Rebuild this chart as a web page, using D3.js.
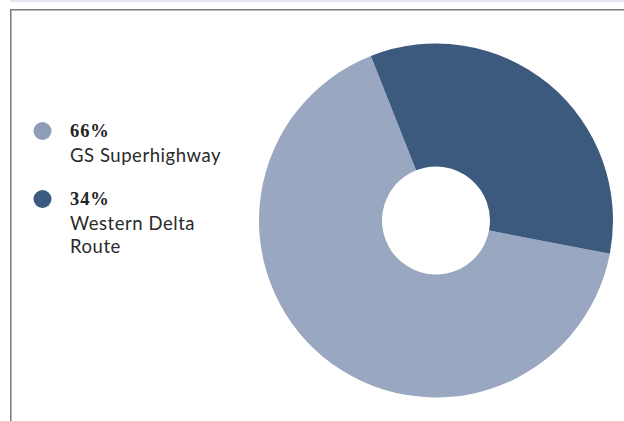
<!DOCTYPE html>
<html>
<head>
<meta charset="utf-8">
<script src="https://cdn.jsdelivr.net/npm/d3@7"></script>
<style>
  html, body { margin: 0; padding: 0; background: #fff; }
  svg { display: block; }
</style>
</head>
<body>
<svg id="chart" width="624" height="421"></svg>
<script>
// Share of routes
const categories = ["GS Superhighway", "Western Delta Route"];
const shares = [66, 34];
const shareLabels = ["66%", "34%"];
const legendLines = [["GS Superhighway"], ["Western Delta", "Route"]];
const colors = ["#99a7c0", "#3c5a7e"];
const legendColors = ["#8f9db8", "#3b5a80"];

const svg = d3.select("#chart");
const W = 624, H = 421;

// thin band across the very top
svg.append("rect").attr("x", 10).attr("y", 0).attr("width", W - 10).attr("height", 2)
  .attr("fill", "#e3e7f0");

// frame lines (top and left)
svg.append("rect").attr("x", 10).attr("y", 9).attr("width", W - 10).attr("height", 1).attr("fill", "#7a7a7a");
svg.append("rect").attr("x", 10).attr("y", 10).attr("width", W - 10).attr("height", 1).attr("fill", "#b8b8b8");
svg.append("rect").attr("x", 10).attr("y", 9).attr("width", 1).attr("height", H - 9).attr("fill", "#7a7a7a");
svg.append("rect").attr("x", 11).attr("y", 10).attr("width", 1).attr("height", H - 10).attr("fill", "#b8b8b8");

// donut
const cx = 436, cy = 220.5, outerR = 177, innerR = 54;
const startDeg = 100.8;
const pie = d3.pie().sort(null).value(d => d)
  .startAngle(startDeg * Math.PI / 180)
  .endAngle((startDeg + 360) * Math.PI / 180);
const arc = d3.arc().innerRadius(innerR).outerRadius(outerR);

svg.append("g").attr("transform", `translate(${cx},${cy})`)
  .selectAll("path").data(pie(shares)).join("path")
  .attr("d", arc)
  .attr("fill", (d, i) => colors[i]);

// legend
const legend = svg.append("g");
const itemY = [131, 199];
categories.forEach((c, i) => {
  const g = legend.append("g").attr("transform", `translate(0,${itemY[i]})`);
  g.append("circle").attr("cx", 42.5).attr("cy", 0).attr("r", 9).attr("fill", legendColors[i]);
  g.append("text").attr("x", 70).attr("y", 5.5)
    .attr("font-family", "Liberation Serif, serif").attr("font-weight", "bold")
    .attr("font-size", 18.5).attr("letter-spacing", 0.9)
    .attr("fill", "#222").text(shareLabels[i]);
  legendLines[i].forEach((line, j) => {
    g.append("text").attr("x", 70).attr("y", 30.5 + j * 23)
      .attr("font-family", "Lato, sans-serif")
      .attr("font-size", 18.5).attr("letter-spacing", 0.55)
      .attr("fill", "#2a2a2a").text(line);
  });
});
</script>
</body>
</html>
